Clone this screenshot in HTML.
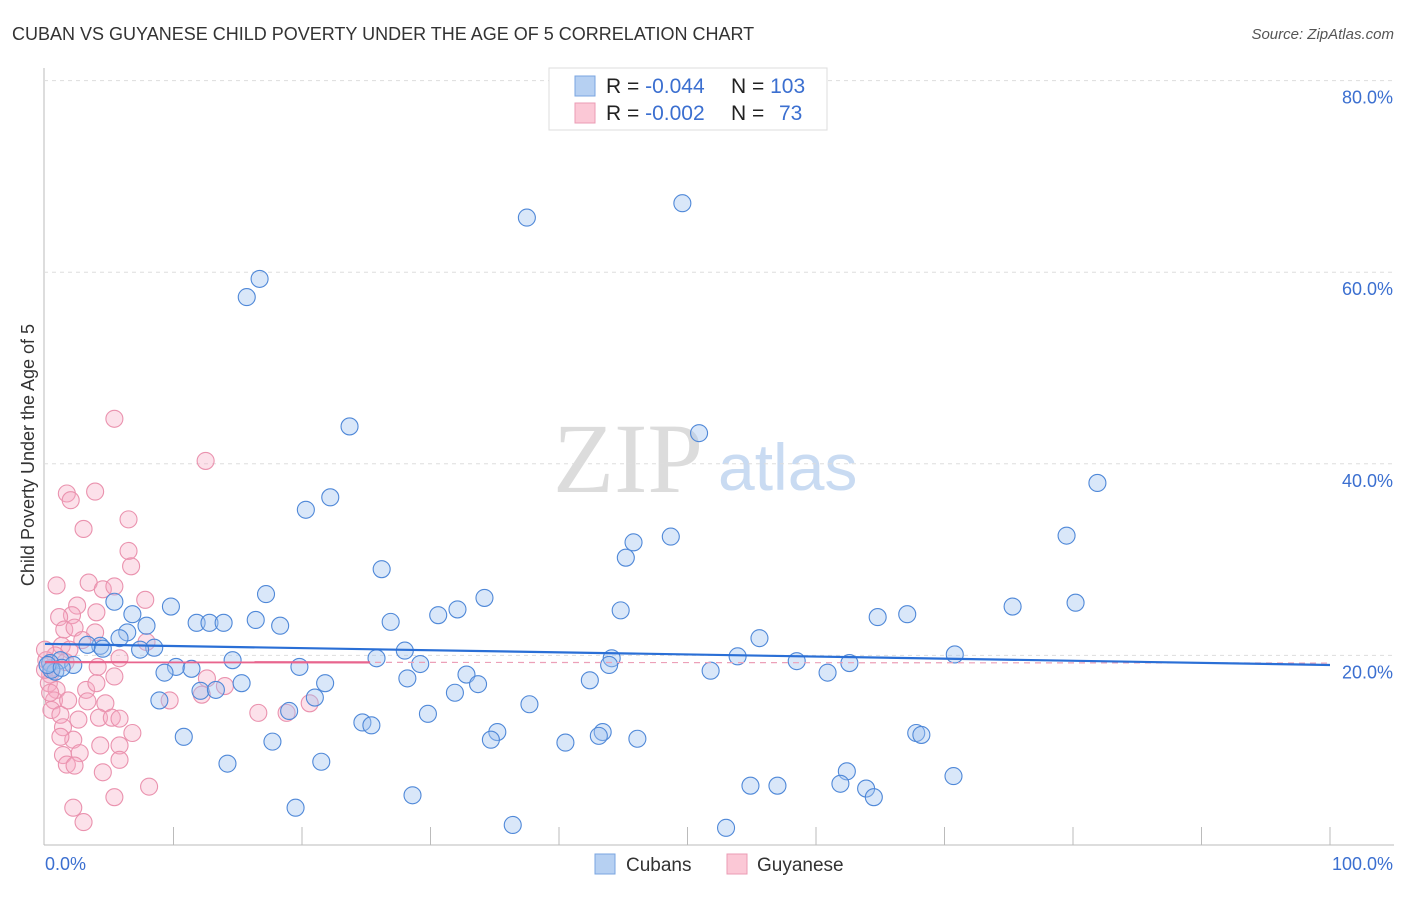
<!DOCTYPE html>
<html><head><meta charset="utf-8"><style>
body{margin:0;background:#fff;font-family:"Liberation Sans",sans-serif;}
</style></head><body>
<svg id="chart" width="1406" height="892" viewBox="0 0 1406 892" font-family="Liberation Sans, sans-serif">
<text x="12" y="40" font-size="18" fill="#333">CUBAN VS GUYANESE CHILD POVERTY UNDER THE AGE OF 5 CORRELATION CHART</text>
<text x="1394" y="39" font-size="15" fill="#555" text-anchor="end" font-style="italic">Source: ZipAtlas.com</text>
<text x="553" y="492" font-size="100" fill="#dcdcdc" style="font-family:'Liberation Serif',serif">ZIP</text>
<text x="718" y="490" font-size="66" fill="#c9dbf2">atlas</text>
<g id="grid"></g>
<g id="pts"></g>
<g id="lines"></g>
<text transform="translate(34,455) rotate(-90)" font-size="18" fill="#333" text-anchor="middle">Child Poverty Under the Age of 5</text>
<text x="45" y="870" font-size="18" fill="#3b6fd0">0.0%</text>
<text x="1393" y="870" font-size="18" fill="#3b6fd0" text-anchor="end">100.0%</text>
<g>
<rect x="549" y="68" width="278" height="62" fill="#fff" stroke="#ddd"/>
<rect x="575" y="76" width="20" height="20" fill="#b6d0f2" stroke="#7aa5e0"/>
<rect x="575" y="103" width="20" height="20" fill="#fbc8d6" stroke="#eb9bb4"/>
<text x="606" y="93" font-size="21" fill="#222">R = <tspan fill="#3b6fd0">-0.044</tspan><tspan x="731">N = </tspan><tspan fill="#3b6fd0">103</tspan></text>
<text x="606" y="120" font-size="21" fill="#222">R = <tspan fill="#3b6fd0">-0.002</tspan><tspan x="731">N = </tspan><tspan fill="#3b6fd0" x="779">73</tspan></text>
</g>
<g>
<rect x="595" y="854" width="20" height="20" fill="#b6d0f2" stroke="#7aa5e0"/>
<text x="626" y="871" font-size="19" fill="#333">Cubans</text>
<rect x="727" y="854" width="20" height="20" fill="#fbc8d6" stroke="#eb9bb4"/>
<text x="757" y="871" font-size="19" fill="#333">Guyanese</text>
</g>
</svg>
<script>
const yTicks=[20,40,60,80];
const yTickLabels=["20.0%","40.0%","60.0%","80.0%"];
const xTicks=[10,20,30,40,50,60,70,80,90,100];
const cubanX=[37.5,49.6,16.7,15.7,23.7,50.9,81.9,22.2,20.3,79.5,48.7,45.8,45.2,26.2,17.2,34.2,5.4,32.1,30.6,44.8,75.3,80.2,9.8,6.8,64.8,67.1,26.9,11.8,12.8,13.9,16.4,18.3,7.9,6.4,55.6,28.0,4.3,3.3,8.5,7.4,53.9,70.8,58.5,44.1,25.8,14.6,29.2,43.9,62.6,1.2,0.4,2.2,10.2,11.4,19.8,9.3,51.8,60.9,0.8,28.2,32.8,42.4,33.7,21.8,15.3,12.1,13.3,31.9,21.0,8.9,37.7,19.0,29.8,24.7,25.4,43.4,67.8,68.2,35.2,34.7,10.8,46.1,43.1,17.7,40.5,21.5,14.2,62.4,70.7,61.9,54.9,57.0,63.9,64.5,28.6,19.5,36.4,53.0,0.5,0.2,1.3,4.5,5.8];
const cubanY=[65.7,67.2,59.3,57.4,43.9,43.2,38.0,36.5,35.2,32.5,32.4,31.8,30.2,29.0,26.4,26.0,25.6,24.8,24.2,24.7,25.1,25.5,25.1,24.3,24.0,24.3,23.5,23.4,23.4,23.4,23.7,23.1,23.1,22.4,21.8,20.5,21.0,21.1,20.8,20.6,19.9,20.1,19.4,19.7,19.7,19.5,19.1,19.0,19.2,19.5,19.2,19.0,18.8,18.6,18.8,18.2,18.4,18.2,18.3,17.6,18.0,17.4,17.0,17.1,17.1,16.3,16.4,16.1,15.6,15.3,14.9,14.2,13.9,13.0,12.7,12.0,11.9,11.7,12.0,11.2,11.5,11.3,11.6,11.0,10.9,8.9,8.7,7.9,7.4,6.6,6.4,6.4,6.1,5.2,5.4,4.1,2.3,2.0,18.5,19.0,18.7,20.7,21.8];
const guyX=[5.4,12.5,1.7,3.9,2.0,6.5,3.0,6.5,6.7,0.9,3.4,4.5,7.8,5.4,2.5,2.1,4.0,1.1,1.5,2.3,3.9,2.9,7.9,1.3,1.9,0.8,1.6,0.5,0.4,0.3,0.9,0.7,0.5,1.2,1.8,4.1,5.4,5.8,12.6,14.0,12.2,3.2,3.3,4.0,4.7,2.6,4.2,5.2,5.8,6.8,2.2,1.4,2.7,5.8,1.7,2.3,4.5,8.1,5.4,2.2,3.0,16.6,18.8,20.6,9.7,0,0.1,0,0.4,1.4,4.3,1.2,5.8];
const guyY=[44.7,40.3,36.9,37.1,36.2,34.2,33.2,30.9,29.3,27.3,27.6,26.9,25.8,27.2,25.2,24.2,24.5,24.0,22.7,22.9,22.4,21.6,21.4,21.0,20.6,20.0,19.3,18.7,18.0,17.1,16.4,15.3,14.3,13.8,15.3,18.8,17.8,19.7,17.6,16.8,15.9,16.4,15.2,17.1,15.0,13.3,13.5,13.5,13.4,11.9,11.2,9.6,9.8,10.6,8.6,8.5,7.8,6.3,5.2,4.1,2.6,14.0,14.0,15.0,15.3,18.5,19.5,20.6,16.1,12.5,10.6,11.5,9.1];
const cubanTrend=[21.2,19.0];
const guyTrend=[19.3,19.2];
const NS="http://www.w3.org/2000/svg";
const X0=45,X1=1330,Y0=847,PXPER=9.58;
const sx=v=>X0+(X1-X0)*v/100;
const sy=v=>Y0-v*PXPER;
function mk(t,a,p){const e=document.createElementNS(NS,t);for(const k in a)e.setAttribute(k,a[k]);p.appendChild(e);return e;}
const grid=document.getElementById('grid');
let ax=mk('line',{x1:44,y1:68,x2:44,y2:845,stroke:'#bbb','stroke-width':1},grid);


let bx=mk('line',{x1:44,y1:845,x2:1394,y2:845,stroke:'#bbb','stroke-width':1},grid);


yTicks.forEach((v,i)=>{
 const g=mk('line',{x1:44,x2:1394,y1:sy(v),y2:sy(v),stroke:'#ddd','stroke-dasharray':'4,4'},grid);
 
 
 const t=mk('text',{x:1393,y:sy(v)+23,'font-size':18,fill:'#3b6fd0','text-anchor':'end'},grid);
 t.textContent=yTickLabels[i];
 
 
});
xTicks.forEach(v=>{
 const l=mk('line',{x1:sx(v),x2:sx(v),y1:827,y2:845,stroke:'#bbb'},grid);
 
 
});
const pts=document.getElementById('pts');
guyX.forEach((v,i)=>{
 const c=mk('circle',{cx:sx(v),cy:sy(guyY[i]),r:8.5,fill:'rgba(246,168,194,0.35)',stroke:'#ea92ae','stroke-width':1.1},pts);
 
 
});
cubanX.forEach((v,i)=>{
 const c=mk('circle',{cx:sx(v),cy:sy(cubanY[i]),r:8.5,fill:'rgba(160,195,240,0.4)',stroke:'#4f88d8','stroke-width':1.1},pts);
 
 
});
const lines=document.getElementById('lines');
let pd=mk('line',{x1:sx(0),y1:sy(guyTrend[0]),x2:sx(100),y2:sy(guyTrend[1]),stroke:'#eca0b8','stroke-width':1.2,'stroke-dasharray':'6,5'},lines);


let pl=mk('line',{x1:sx(0),y1:sy(guyTrend[0]),x2:sx(25.3),y2:sy(guyTrend[0]+(guyTrend[1]-guyTrend[0])*0.253),stroke:'#e8658e','stroke-width':2.2},lines);


let cl=mk('line',{x1:sx(0),y1:sy(cubanTrend[0]),x2:sx(100),y2:sy(cubanTrend[1]),stroke:'#2a6fd6','stroke-width':2.2},lines);


</script>
</body></html>
